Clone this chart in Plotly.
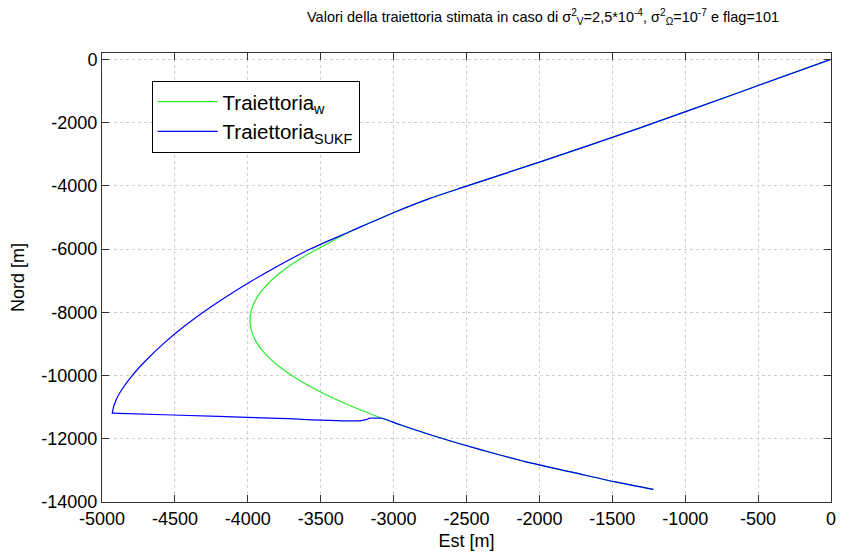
import plotly.graph_objects as go

# Green: true trajectory (Traiettoria_w)
est_w = [0, -650, -1300, -2000, -2500, -2764, -2997, -3287, -3467, -3588, -3693, -3782,
         -3855, -3912, -3953, -3977, -3985, -3976, -3951, -3908, -3848, -3771, -3677,
         -3566, -3438, -3292, -3130, -2950, -2754, -2540, -2309, -2061, -1770, -1480,
         -1218]
nord_w = [0, -1080, -2150, -3250, -4010, -4421, -4842, -5422, -5865, -6165, -6465, -6765,
          -7065, -7365, -7665, -7965, -8265, -8565, -8865, -9165, -9465, -9765, -10065,
          -10365, -10665, -10965, -11265, -11565, -11865, -12165, -12465, -12765, -13065,
          -13365, -13600]

# Blue: SUKF estimate
est_s = [0, -650, -1300, -2000, -2500, -2764, -2997, -3287, -3582, -3970, -4190, -4306,
         -4451, -4580, -4694, -4793, -4885, -4918, -4929, -4930, -4924, -4880, -4200,
         -3788, -3229, -3190, -3161, -3120, -3080, -2950, -2754, -2540, -2309, -2061,
         -1770, -1480, -1218]
nord_s = [0, -1080, -2150, -3250, -4010, -4421, -4842, -5422, -6022, -7000, -7633, -8000,
          -8500, -9000, -9500, -10000, -10600, -10950, -11175, -11190, -11191, -11197,
          -11294, -11355, -11432, -11395, -11345, -11350, -11351, -11565, -11865, -12165,
          -12465, -12765, -13065, -13365, -13600]

x_ticks = [-5000, -4500, -4000, -3500, -3000, -2500, -2000, -1500, -1000, -500, 0]
y_ticks = [-14000, -12000, -10000, -8000, -6000, -4000, -2000, 0]

font = "Liberation Sans, Arial, sans-serif"

fig = go.Figure()
fig.add_trace(go.Scatter(x=est_w, y=nord_w, mode="lines", name="Traiettoria<sub>w</sub>",
                         line=dict(color="rgb(40,235,40)", width=1.2, shape="spline",
                                   smoothing=0.8)))
fig.add_trace(go.Scatter(x=est_s, y=nord_s, mode="lines", name="Traiettoria<sub>SUKF</sub>",
                         line=dict(color="rgb(0,0,255)", width=1.2, shape="spline",
                                   smoothing=0.8)))

axis_common = dict(
    showline=True, linecolor="#333333", linewidth=1, mirror="ticks",
    ticks="inside", ticklen=7, tickcolor="#333333",
    showgrid=True, gridcolor="#cfcfcf", griddash="dot", gridwidth=1,
    zeroline=False, tickfont=dict(size=18, color="black", family=font),
)

fig.update_layout(
    width=842, height=553,
    margin=dict(l=102, r=6, t=53, b=50),
    paper_bgcolor="white", plot_bgcolor="white",
    font=dict(family=font, color="black"),
    title=dict(
        text="Valori della traiettoria stimata in caso di σ<sup>2</sup><sub>V</sub>=2,5*10<sup>-4</sup>, "
             "σ<sup>2</sup><sub>Ω</sub>=10<sup>-7</sup> e flag=101",
        x=0.605, xref="paper", xanchor="center", y=0.97, yanchor="middle",
        font=dict(size=14.5, family=font, color="black"),
    ),
    xaxis=dict(range=[-5000, 0], tickvals=x_ticks, ticktext=[str(v) for v in x_ticks],
               title=dict(text="Est [m]", font=dict(size=18, family=font), standoff=6),
               **axis_common),
    yaxis=dict(range=[-14000, 200], tickvals=y_ticks, ticktext=[str(v) for v in y_ticks],
               title=dict(text="Nord [m]", font=dict(size=18, family=font), standoff=12),
               **axis_common),
    legend=dict(x=0.068, y=0.938, xanchor="left", yanchor="top",
                bordercolor="black", borderwidth=1, bgcolor="white",
                font=dict(size=20.5, family=font, color="black"),
                tracegroupgap=0, itemwidth=60),
    showlegend=True,
)

fig.write_html("out.html")
